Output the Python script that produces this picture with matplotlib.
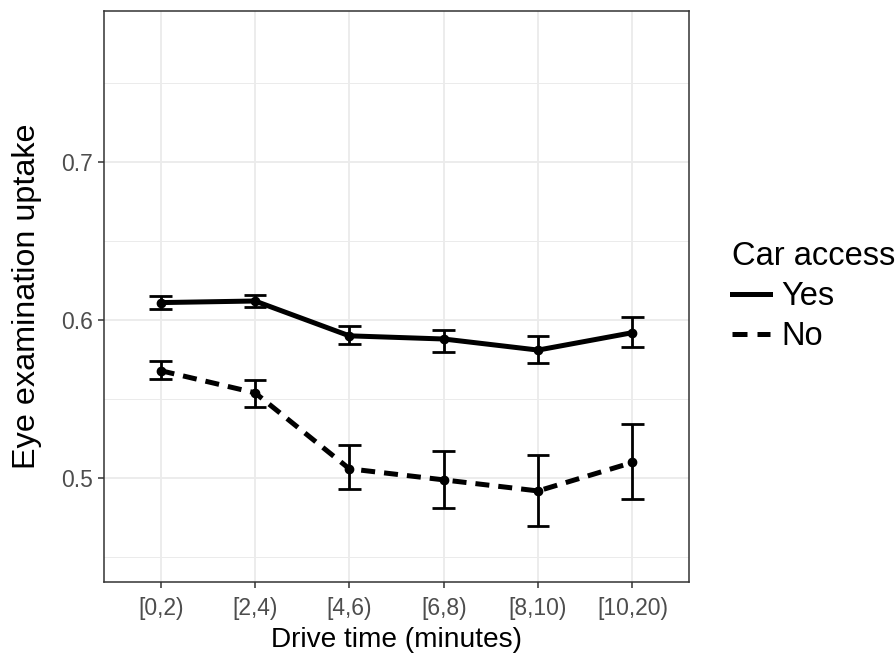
import numpy as np
import matplotlib
matplotlib.use("Agg")
import matplotlib.pyplot as plt
from matplotlib.lines import Line2D

plt.rcParams["font.family"] = ["Liberation Sans", "DejaVu Sans"]

cats = ["[0,2)", "[2,4)", "[4,6)", "[6,8)", "[8,10)", "[10,20)"]
yes_mean = [0.611, 0.612, 0.590, 0.588, 0.581, 0.592]
yes_lo = [0.607, 0.608, 0.585, 0.580, 0.573, 0.583]
yes_hi = [0.615, 0.616, 0.596, 0.594, 0.590, 0.602]
no_mean = [0.568, 0.554, 0.506, 0.499, 0.492, 0.510]
no_lo = [0.563, 0.545, 0.493, 0.481, 0.470, 0.487]
no_hi = [0.574, 0.562, 0.521, 0.517, 0.515, 0.534]

fig = plt.figure(figsize=(8.96, 6.57), dpi=100)
ax = fig.add_axes([0.1161, 0.1142, 0.6529, 0.8695])
x = np.arange(1, len(cats) + 1)

# grid like theme_bw
ax.set_yticks([0.5, 0.6, 0.7])
ax.set_yticks([0.45, 0.55, 0.65, 0.75], minor=True)
ax.set_xticks(x)
ax.set_xticklabels(cats)
ax.grid(which="major", color="#EBEBEB", lw=1.3, zorder=0)
ax.grid(which="minor", axis="y", color="#EBEBEB", lw=0.7, zorder=0)
ax.set_axisbelow(True)

hw = 0.12
DASH = (2.8, 1.8)
for m, lo, hi, ls in [(yes_mean, yes_lo, yes_hi, "-"), (no_mean, no_lo, no_hi, "--")]:
    ax.vlines(x, lo, hi, color="black", lw=2.0, zorder=3)
    ax.hlines(lo, x - hw, x + hw, color="black", lw=2.0, zorder=3)
    ax.hlines(hi, x - hw, x + hw, color="black", lw=2.0, zorder=3)
    if ls == "-":
        ax.plot(x, m, color="black", lw=3.6, ls="-", zorder=4, solid_capstyle="butt")
    else:
        ax.plot(x, m, color="black", lw=3.6, dashes=DASH, zorder=4)
    ax.plot(x, m, "o", color="black", ms=6, zorder=5)

ax.set_xlim(0.4, 6.6)
ax.set_ylim(0.4345, 0.7954)
for s in ax.spines.values():
    s.set_color("#333333")
    s.set_linewidth(1.1)
ax.tick_params(which="major", length=4, width=1.1, color="#333333", labelcolor="#4D4D4D", labelsize=16.5, pad=4)
ax.tick_params(axis="x", pad=7)
ax.tick_params(which="minor", length=0)

ax.set_xlabel("Drive time (minutes)", fontsize=20.2, labelpad=5)
ax.set_ylabel("Eye examination uptake", fontsize=23.3, labelpad=14)

handles = [Line2D([0], [0], color="black", lw=3.6, ls="-"),
           Line2D([0], [0], color="black", lw=3.6, dashes=(3, 2))]
leg = ax.legend(handles, ["Yes", "No"], title="Car access", loc="upper left",
                bbox_to_anchor=(1.051, 0.62), frameon=False, fontsize=23.5,
                title_fontsize=23.5, handlelength=1.17, handletextpad=0.34,
                labelspacing=0.28, borderaxespad=0)
leg._legend_box.align = "left"

fig.savefig("out.png", dpi=100)
